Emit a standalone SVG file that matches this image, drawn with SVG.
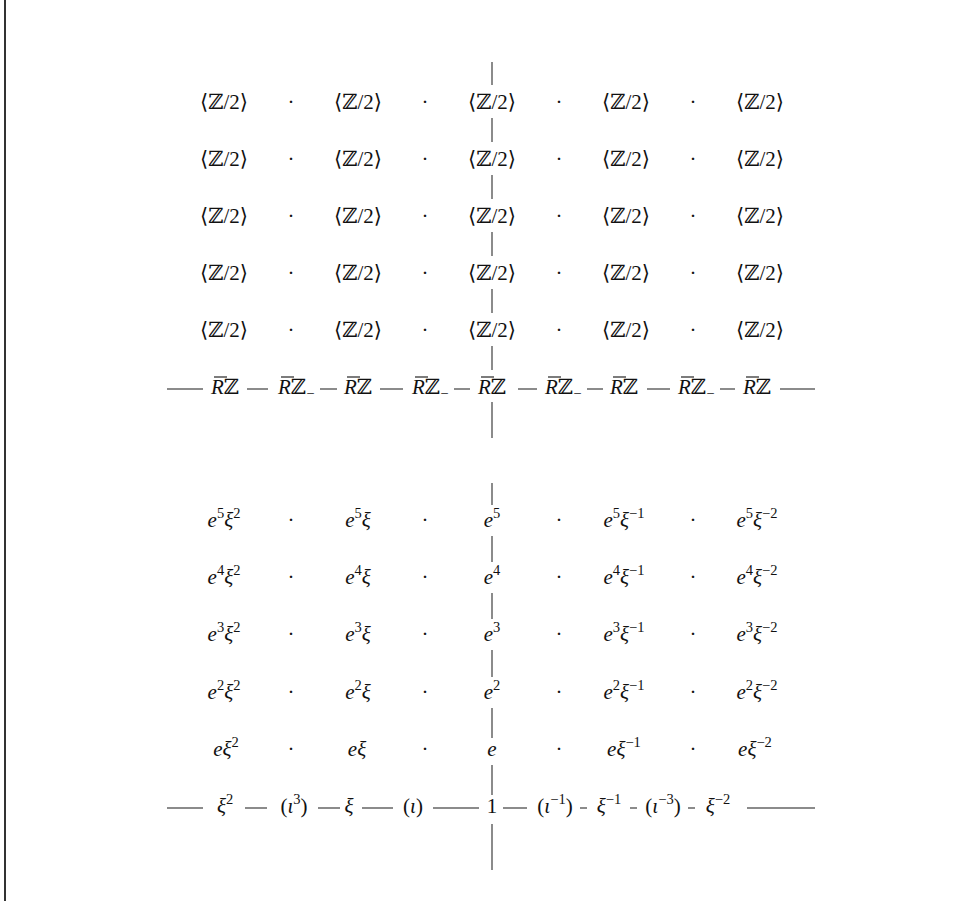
<svg xmlns="http://www.w3.org/2000/svg" width="969" height="901" viewBox="0 0 969 901">
<style>
text{font-family:"Liberation Serif","DejaVu Serif",serif;font-size:21px;fill:#111}
.m{text-anchor:middle}
.i{font-style:italic}
.s{font-size:14.5px;font-style:normal}
.ln{stroke:#666;stroke-width:1.5;fill:none}
.ob{stroke:#111;stroke-width:1.1;fill:none}
</style>
<rect x="0" y="0" width="969" height="901" fill="#fff"/>
<line x1="5" y1="0" x2="5" y2="901" stroke="#333" stroke-width="2"/>
<g id="connectors" class="ln">
<path d="M492 62V85M492 118V142M492 175V199M492 232V256M492 289V313M492 346V370M492 402V438"/>
<path d="M167 389H203M247 389H268M320 389H337M380 389H403M454 389H470M518 389H537M587 389H603M647 389H670M720 389H735M780 389H815"/>
<path d="M492 483V505M492 536V562M492 593V619M492 650V677M492 708V738M492 765V795M492 824V870"/>
<path d="M167 808H203M245 808H267M318 808H340M362 808H393M433 808H479M503 808H527M580 808H587M630 808H637M688 808H695M747 808H815"/>
</g>
<g id="top-grid">
<g id="z11"><text class="m" x="224" y="109">⟨ℤ/2⟩</text></g>
<g id="d11"><text class="m" x="291" y="109">·</text></g>
<g id="z12"><text class="m" x="358" y="109">⟨ℤ/2⟩</text></g>
<g id="d12"><text class="m" x="425" y="109">·</text></g>
<g id="z13"><text class="m" x="492" y="109">⟨ℤ/2⟩</text></g>
<g id="d13"><text class="m" x="559" y="109">·</text></g>
<g id="z14"><text class="m" x="626" y="109">⟨ℤ/2⟩</text></g>
<g id="d14"><text class="m" x="693" y="109">·</text></g>
<g id="z15"><text class="m" x="760" y="109">⟨ℤ/2⟩</text></g>

<g id="z21"><text class="m" x="224" y="166">⟨ℤ/2⟩</text></g>
<g id="d21"><text class="m" x="291" y="166">·</text></g>
<g id="z22"><text class="m" x="358" y="166">⟨ℤ/2⟩</text></g>
<g id="d22"><text class="m" x="425" y="166">·</text></g>
<g id="z23"><text class="m" x="492" y="166">⟨ℤ/2⟩</text></g>
<g id="d23"><text class="m" x="559" y="166">·</text></g>
<g id="z24"><text class="m" x="626" y="166">⟨ℤ/2⟩</text></g>
<g id="d24"><text class="m" x="693" y="166">·</text></g>
<g id="z25"><text class="m" x="760" y="166">⟨ℤ/2⟩</text></g>

<g id="z31"><text class="m" x="224" y="223">⟨ℤ/2⟩</text></g>
<g id="d31"><text class="m" x="291" y="223">·</text></g>
<g id="z32"><text class="m" x="358" y="223">⟨ℤ/2⟩</text></g>
<g id="d32"><text class="m" x="425" y="223">·</text></g>
<g id="z33"><text class="m" x="492" y="223">⟨ℤ/2⟩</text></g>
<g id="d33"><text class="m" x="559" y="223">·</text></g>
<g id="z34"><text class="m" x="626" y="223">⟨ℤ/2⟩</text></g>
<g id="d34"><text class="m" x="693" y="223">·</text></g>
<g id="z35"><text class="m" x="760" y="223">⟨ℤ/2⟩</text></g>

<g id="z41"><text class="m" x="224" y="280">⟨ℤ/2⟩</text></g>
<g id="d41"><text class="m" x="291" y="280">·</text></g>
<g id="z42"><text class="m" x="358" y="280">⟨ℤ/2⟩</text></g>
<g id="d42"><text class="m" x="425" y="280">·</text></g>
<g id="z43"><text class="m" x="492" y="280">⟨ℤ/2⟩</text></g>
<g id="d43"><text class="m" x="559" y="280">·</text></g>
<g id="z44"><text class="m" x="626" y="280">⟨ℤ/2⟩</text></g>
<g id="d44"><text class="m" x="693" y="280">·</text></g>
<g id="z45"><text class="m" x="760" y="280">⟨ℤ/2⟩</text></g>

<g id="z51"><text class="m" x="224" y="337">⟨ℤ/2⟩</text></g>
<g id="d51"><text class="m" x="291" y="337">·</text></g>
<g id="z52"><text class="m" x="358" y="337">⟨ℤ/2⟩</text></g>
<g id="d52"><text class="m" x="425" y="337">·</text></g>
<g id="z53"><text class="m" x="492" y="337">⟨ℤ/2⟩</text></g>
<g id="d53"><text class="m" x="559" y="337">·</text></g>
<g id="z54"><text class="m" x="626" y="337">⟨ℤ/2⟩</text></g>
<g id="d54"><text class="m" x="693" y="337">·</text></g>
<g id="z55"><text class="m" x="760" y="337">⟨ℤ/2⟩</text></g>
</g>
<g id="rz-row">
<g id="rz1"><text x="211" y="394"><tspan class="i">R</tspan>ℤ</text><path class="ob" d="M214 377H227"/></g>
<g id="rz2"><text x="278" y="394"><tspan class="i">R</tspan>ℤ<tspan class="s" dy="4">−</tspan></text><path class="ob" d="M281 377H294"/></g>
<g id="rz3"><text x="344" y="394"><tspan class="i">R</tspan>ℤ</text><path class="ob" d="M347 377H360"/></g>
<g id="rz4"><text x="412" y="394"><tspan class="i">R</tspan>ℤ<tspan class="s" dy="4">−</tspan></text><path class="ob" d="M415 377H428"/></g>
<g id="rz5"><text x="478" y="394"><tspan class="i">R</tspan>ℤ</text><path class="ob" d="M481 377H494"/></g>
<g id="rz6"><text x="545" y="394"><tspan class="i">R</tspan>ℤ<tspan class="s" dy="4">−</tspan></text><path class="ob" d="M548 377H561"/></g>
<g id="rz7"><text x="610" y="394"><tspan class="i">R</tspan>ℤ</text><path class="ob" d="M613 377H626"/></g>
<g id="rz8"><text x="678" y="394"><tspan class="i">R</tspan>ℤ<tspan class="s" dy="4">−</tspan></text><path class="ob" d="M681 377H694"/></g>
<g id="rz9"><text x="743" y="394"><tspan class="i">R</tspan>ℤ</text><path class="ob" d="M746 377H759"/></g>
</g>
<g id="bottom-grid">
<g id="e5a"><text class="m" x="224" y="527"><tspan class="i">e</tspan><tspan class="s" dy="-9">5</tspan><tspan class="i" dy="9">ξ</tspan><tspan class="s" dy="-9">2</tspan></text></g>
<g id="e5d1"><text class="m" x="291" y="527">·</text></g>
<g id="e5b"><text class="m" x="358" y="527"><tspan class="i">e</tspan><tspan class="s" dy="-9">5</tspan><tspan class="i" dy="9">ξ</tspan></text></g>
<g id="e5d2"><text class="m" x="425" y="527">·</text></g>
<g id="e5c"><text class="m" x="492" y="527"><tspan class="i">e</tspan><tspan class="s" dy="-9">5</tspan></text></g>
<g id="e5d3"><text class="m" x="559" y="527">·</text></g>
<g id="e5e"><text class="m" x="624" y="527"><tspan class="i">e</tspan><tspan class="s" dy="-9">5</tspan><tspan class="i" dy="9">ξ</tspan><tspan class="s" dy="-9">−1</tspan></text></g>
<g id="e5d4"><text class="m" x="693" y="527">·</text></g>
<g id="e5f"><text class="m" x="757" y="527"><tspan class="i">e</tspan><tspan class="s" dy="-9">5</tspan><tspan class="i" dy="9">ξ</tspan><tspan class="s" dy="-9">−2</tspan></text></g>

<g id="e4a"><text class="m" x="224" y="584"><tspan class="i">e</tspan><tspan class="s" dy="-9">4</tspan><tspan class="i" dy="9">ξ</tspan><tspan class="s" dy="-9">2</tspan></text></g>
<g id="e4d1"><text class="m" x="291" y="584">·</text></g>
<g id="e4b"><text class="m" x="358" y="584"><tspan class="i">e</tspan><tspan class="s" dy="-9">4</tspan><tspan class="i" dy="9">ξ</tspan></text></g>
<g id="e4d2"><text class="m" x="425" y="584">·</text></g>
<g id="e4c"><text class="m" x="492" y="584"><tspan class="i">e</tspan><tspan class="s" dy="-9">4</tspan></text></g>
<g id="e4d3"><text class="m" x="559" y="584">·</text></g>
<g id="e4e"><text class="m" x="624" y="584"><tspan class="i">e</tspan><tspan class="s" dy="-9">4</tspan><tspan class="i" dy="9">ξ</tspan><tspan class="s" dy="-9">−1</tspan></text></g>
<g id="e4d4"><text class="m" x="693" y="584">·</text></g>
<g id="e4f"><text class="m" x="757" y="584"><tspan class="i">e</tspan><tspan class="s" dy="-9">4</tspan><tspan class="i" dy="9">ξ</tspan><tspan class="s" dy="-9">−2</tspan></text></g>

<g id="e3a"><text class="m" x="224" y="641"><tspan class="i">e</tspan><tspan class="s" dy="-9">3</tspan><tspan class="i" dy="9">ξ</tspan><tspan class="s" dy="-9">2</tspan></text></g>
<g id="e3d1"><text class="m" x="291" y="641">·</text></g>
<g id="e3b"><text class="m" x="358" y="641"><tspan class="i">e</tspan><tspan class="s" dy="-9">3</tspan><tspan class="i" dy="9">ξ</tspan></text></g>
<g id="e3d2"><text class="m" x="425" y="641">·</text></g>
<g id="e3c"><text class="m" x="492" y="641"><tspan class="i">e</tspan><tspan class="s" dy="-9">3</tspan></text></g>
<g id="e3d3"><text class="m" x="559" y="641">·</text></g>
<g id="e3e"><text class="m" x="624" y="641"><tspan class="i">e</tspan><tspan class="s" dy="-9">3</tspan><tspan class="i" dy="9">ξ</tspan><tspan class="s" dy="-9">−1</tspan></text></g>
<g id="e3d4"><text class="m" x="693" y="641">·</text></g>
<g id="e3f"><text class="m" x="757" y="641"><tspan class="i">e</tspan><tspan class="s" dy="-9">3</tspan><tspan class="i" dy="9">ξ</tspan><tspan class="s" dy="-9">−2</tspan></text></g>

<g id="e2a"><text class="m" x="224" y="699"><tspan class="i">e</tspan><tspan class="s" dy="-9">2</tspan><tspan class="i" dy="9">ξ</tspan><tspan class="s" dy="-9">2</tspan></text></g>
<g id="e2d1"><text class="m" x="291" y="699">·</text></g>
<g id="e2b"><text class="m" x="358" y="699"><tspan class="i">e</tspan><tspan class="s" dy="-9">2</tspan><tspan class="i" dy="9">ξ</tspan></text></g>
<g id="e2d2"><text class="m" x="425" y="699">·</text></g>
<g id="e2c"><text class="m" x="492" y="699"><tspan class="i">e</tspan><tspan class="s" dy="-9">2</tspan></text></g>
<g id="e2d3"><text class="m" x="559" y="699">·</text></g>
<g id="e2e"><text class="m" x="624" y="699"><tspan class="i">e</tspan><tspan class="s" dy="-9">2</tspan><tspan class="i" dy="9">ξ</tspan><tspan class="s" dy="-9">−1</tspan></text></g>
<g id="e2d4"><text class="m" x="693" y="699">·</text></g>
<g id="e2f"><text class="m" x="757" y="699"><tspan class="i">e</tspan><tspan class="s" dy="-9">2</tspan><tspan class="i" dy="9">ξ</tspan><tspan class="s" dy="-9">−2</tspan></text></g>

<g id="e1a"><text class="m" x="226" y="756"><tspan class="i">eξ</tspan><tspan class="s" dy="-9">2</tspan></text></g>
<g id="e1d1"><text class="m" x="291" y="756">·</text></g>
<g id="e1b"><text class="m" x="357" y="756"><tspan class="i">eξ</tspan></text></g>
<g id="e1d2"><text class="m" x="425" y="756">·</text></g>
<g id="e1c"><text class="m i" x="492" y="756">e</text></g>
<g id="e1d3"><text class="m" x="559" y="756">·</text></g>
<g id="e1e"><text class="m" x="624" y="756"><tspan class="i">eξ</tspan><tspan class="s" dy="-9">−1</tspan></text></g>
<g id="e1d4"><text class="m" x="693" y="756">·</text></g>
<g id="e1f"><text class="m" x="755" y="756"><tspan class="i">eξ</tspan><tspan class="s" dy="-9">−2</tspan></text></g>
</g>
<g id="bottom-row">
<g id="xi2"><text class="m" x="225" y="813"><tspan class="i">ξ</tspan><tspan class="s" dy="-9">2</tspan></text></g>
<g id="iota3"><text class="m" x="294" y="813">(<tspan class="i">ι</tspan><tspan class="s" dy="-9">3</tspan><tspan dy="9">)</tspan></text></g>
<g id="xi1"><text class="m i" x="349" y="813">ξ</text></g>
<g id="iota1"><text class="m" x="413" y="813">(<tspan class="i">ι</tspan>)</text></g>
<g id="one"><text class="m" x="492" y="813">1</text></g>
<g id="iotam1"><text class="m" x="555" y="813">(<tspan class="i">ι</tspan><tspan class="s" dy="-9">−1</tspan><tspan dy="9">)</tspan></text></g>
<g id="xim1"><text class="m" x="609" y="813"><tspan class="i">ξ</tspan><tspan class="s" dy="-9">−1</tspan></text></g>
<g id="iotam3"><text class="m" x="663" y="813">(<tspan class="i">ι</tspan><tspan class="s" dy="-9">−3</tspan><tspan dy="9">)</tspan></text></g>
<g id="xim2"><text class="m" x="718" y="813"><tspan class="i">ξ</tspan><tspan class="s" dy="-9">−2</tspan></text></g>
</g>
</svg>
